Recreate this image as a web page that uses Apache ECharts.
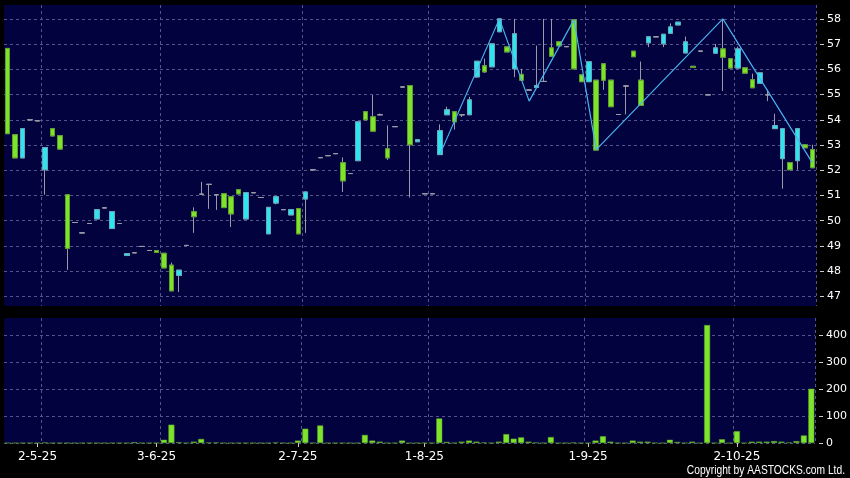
<!DOCTYPE html>
<html>
<head>
<meta charset="utf-8">
<script src="https://cdn.jsdelivr.net/npm/echarts@6/dist/echarts.min.js"></script>
<style>
html,body{margin:0;padding:0;background:#000;}
#chart{width:850px;height:478px;}
</style>
</head>
<body>
<div id="chart"></div>
<script>
// ---- data ----
const open = [56.83,53.41,52.49,54.00,53.96,52.02,53.65,53.37,51.03,49.93,
49.52,49.89,50.07,50.51,49.69,49.89,48.62,48.73,48.98,48.82,
48.82,48.71,48.24,47.83,49.02,50.36,51.05,51.44,51.03,51.07,
50.95,51.23,50.07,51.11,50.92,49.48,50.70,50.44,50.23,50.48,
50.86,52.02,52.50,52.58,52.66,52.30,51.87,52.38,54.32,54.12,
54.20,52.85,53.73,55.30,55.36,53.13,51.07,51.07,52.62,54.20,
54.32,54.20,54.20,55.70,56.14,56.10,57.49,56.89,56.02,55.80,
55.18,55.28,55.52,56.85,57.09,56.90,57.96,55.78,55.51,55.57,
56.22,55.57,54.21,55.34,56.72,55.57,57.05,57.29,57.01,57.43,
57.76,56.65,56.12,56.72,54.99,56.64,56.81,56.42,56.05,56.06,
55.59,55.45,54.99,53.65,52.46,52.30,52.38,53.01,52.82];
const close = [53.45,52.49,53.65,54.00,53.96,52.90,53.36,52.84,48.90,49.93,
49.52,49.89,50.44,50.51,50.36,49.89,48.70,48.73,48.98,48.82,
48.74,48.13,47.22,48.04,49.02,50.16,51.05,51.44,51.03,50.52,
50.27,51.06,51.11,51.11,50.92,50.53,50.95,50.44,50.44,49.48,
51.14,52.02,52.50,52.58,52.66,51.58,51.87,53.92,54.00,53.55,
54.20,52.49,53.73,55.30,53.01,53.21,51.07,51.07,53.57,54.40,
53.92,54.20,54.79,56.32,55.90,57.01,58.00,56.69,57.41,55.57,
55.18,55.36,55.52,56.52,56.93,56.90,56.02,55.51,56.30,52.80,
55.57,54.52,54.21,55.34,56.50,54.57,57.29,57.29,57.39,57.68,
57.87,57.09,56.08,56.72,54.99,56.85,56.48,56.05,56.81,55.85,
55.27,55.86,54.99,53.77,53.65,52.02,53.65,52.89,52.10];
const low = [53.45,52.49,52.49,54.00,53.96,51.03,53.36,52.84,48.05,49.93,
49.52,49.89,50.07,50.51,49.69,49.89,48.62,48.73,48.98,48.82,
48.74,48.13,47.22,47.17,49.02,49.52,51.05,50.47,50.43,50.52,
49.75,51.06,50.07,51.11,50.92,49.48,50.65,50.44,50.23,49.48,
49.52,51.97,52.50,52.58,52.66,51.14,51.87,52.38,54.00,53.55,
54.20,52.41,53.73,55.30,50.92,53.13,51.07,51.07,52.62,54.20,
53.61,54.11,54.20,55.66,55.86,56.10,57.49,56.69,55.69,55.57,
55.18,55.28,55.52,56.52,56.93,56.90,56.02,55.51,55.51,52.80,
55.19,54.52,54.21,54.21,56.50,54.57,56.88,57.29,56.88,57.43,
57.76,56.65,56.08,56.72,54.99,56.64,55.14,56.05,56.05,55.85,
55.27,55.45,54.74,53.65,51.27,52.02,52.02,52.89,52.10];
const high = [56.83,53.41,53.65,54.00,53.96,52.90,53.65,53.37,51.03,49.93,
49.52,49.89,50.44,50.51,50.36,49.89,48.70,48.73,48.98,48.82,
48.82,48.71,48.34,48.04,49.02,50.53,51.54,51.44,51.03,51.07,
50.95,51.23,51.11,51.11,50.92,50.53,50.95,50.44,50.44,50.48,
51.14,52.02,52.50,52.58,52.66,52.51,51.87,53.92,54.32,54.98,
54.25,53.78,53.73,55.30,55.36,53.21,51.07,51.07,53.82,54.52,
54.32,54.20,54.91,56.32,56.43,57.01,58.00,56.89,58.00,56.02,
55.18,56.94,58.00,58.00,57.09,56.90,57.96,55.78,56.30,55.57,
56.22,55.57,54.21,55.34,56.72,56.31,57.29,57.29,57.39,57.82,
57.87,57.30,56.12,56.72,54.99,57.01,58.00,56.42,56.90,56.06,
55.83,55.86,55.19,54.24,53.65,52.30,53.65,53.01,53.01];
const volume = [0,0,0,0,0,2,0,0,0,0,
0,0,0,0,0,0,0,3,0,0,
0,12,68,3,0,5,15,2,2,0,
0,0,0,0,0,0,2,0,0,9,
53,0,65,0,0,0,0,0,30,9,
5,0,0,9,0,0,0,0,91,4,
0,5,9,5,2,0,5,33,16,21,
5,2,0,22,0,0,2,0,0,9,
25,5,0,0,9,5,5,0,0,12,
4,0,5,0,437,0,14,0,44,0,
5,5,5,7,5,2,7,28,201];
// zigzag turning points: candle index and price
const zigIdx = [58,66,70,76,79,96,108];
const zigVal = [52.62,58.00,54.74,57.96,52.82,58.00,52.30];
// tick labels and the candles they sit under
const tickLabels = ['2-5-25','3-6-25','2-7-25','1-8-25','1-9-25','2-10-25'];
const labelIdx = [4,20,39,56,78,98];
const gridIdx = [5,21,40,57,78,98];
const priceTicks = [47,48,49,50,51,52,53,54,55,56,57,58];
const volumeTicks = [0,100,200,300,400];
// ---------------------------------------

const categories = open.map((_, i) => {
  const k = labelIdx.indexOf(i);
  return k >= 0 ? tickLabels[k] : 'c' + i;
});
const wickData = open.map((o, i) => [o, close[i], low[i], high[i]]);
const bodyData = open.map((o, i) => [o, close[i], Math.min(o, close[i]), Math.max(o, close[i])]);
const zigData = zigIdx.map((x, i) => [x, zigVal[i]]);

const gridLine = { show: true, lineStyle: { color: '#55558c', type: [3, 3], width: 1 } };
const GRAY = '#9a9aa6';

const chart = echarts.init(document.getElementById('chart'), null, { renderer: 'canvas' });
chart.setOption({
  animation: false,
  backgroundColor: '#000000',
  grid: [
    { left: 4, width: 812, top: 5, height: 301, show: true, backgroundColor: '#02023f', borderWidth: 0 },
    { left: 4, width: 812, top: 318, height: 125, show: true, backgroundColor: '#02023f', borderWidth: 0 }
  ],
  xAxis: [
    { type: 'category', gridIndex: 0, data: categories, boundaryGap: true,
      axisLine: { show: false }, axisTick: { show: false }, axisLabel: { show: false },
      splitLine: Object.assign({ interval: (i) => gridIdx.includes(i) }, gridLine) },
    { type: 'category', gridIndex: 1, data: categories, boundaryGap: true,
      axisLine: { show: false },
      axisTick: { show: true, alignWithLabel: true, length: 4, interval: (i) => labelIdx.includes(i), lineStyle: { color: '#cccccc' } },
      axisLabel: { show: true, interval: (i) => labelIdx.includes(i), color: '#ffffff', fontSize: 12, fontFamily: 'DejaVu Sans', margin: 8 },
      splitLine: Object.assign({ interval: (i) => gridIdx.includes(i) }, gridLine) }
  ],
  yAxis: [
    { type: 'value', gridIndex: 0, position: 'right', min: 46.62, max: 58.55, splitNumber: 12, offset: 4,
      axisLine: { show: false },
      axisTick: { show: true, length: 4, customValues: priceTicks, lineStyle: { color: '#cccccc' } },
      axisLabel: { color: '#ffffff', fontSize: 11, fontFamily: 'DejaVu Sans', margin: 7, customValues: priceTicks,
        formatter: (v) => (Math.abs(v - Math.round(v)) < 1e-6 ? String(Math.round(v)) : '') },
      splitLine: gridLine },
    { type: 'value', gridIndex: 1, position: 'right', min: 0, max: 463, splitNumber: 5, offset: 4,
      axisLine: { show: false },
      axisTick: { show: true, length: 4, customValues: volumeTicks, lineStyle: { color: '#cccccc' } },
      axisLabel: { color: '#ffffff', fontSize: 11, fontFamily: 'DejaVu Sans', margin: 7, customValues: volumeTicks,
        formatter: (v) => (v % 100 === 0 ? String(v) : '') },
      splitLine: gridLine }
  ],
  series: [
    { type: 'candlestick', xAxisIndex: 0, yAxisIndex: 0, data: wickData, barWidth: 5,
      itemStyle: { color: 'rgba(0,0,0,0)', color0: 'rgba(0,0,0,0)', borderColor: GRAY, borderColor0: GRAY, borderColorDoji: GRAY, borderWidth: 1 } },
    { type: 'candlestick', xAxisIndex: 0, yAxisIndex: 0, data: bodyData, barWidth: 5,
      itemStyle: { color: '#2fe3ef', color0: '#7ee32b', borderColor: '#62a9bd', borderColor0: '#5c9f28', borderColorDoji: GRAY, borderWidth: 1 } },
    { type: 'line', xAxisIndex: 0, yAxisIndex: 0, data: zigData, symbol: 'none',
      lineStyle: { color: '#4ab2ee', width: 1.2 }, z: 5 },
    { type: 'bar', xAxisIndex: 1, yAxisIndex: 1, data: volume, barWidth: 6,
      itemStyle: { color: '#7ee32b', borderColor: '#5c9f28', borderWidth: 0.5 } }
  ],
  graphic: [
    { type: 'text', x: 845, y: 471, scaleX: 0.82,
      style: { text: 'Copyright by AASTOCKS.com Ltd.', fill: '#ffffff', fontSize: 12.5, fontFamily: '"Liberation Sans", sans-serif', align: 'right', verticalAlign: 'middle' } }
  ]
});
</script>
</body>
</html>
